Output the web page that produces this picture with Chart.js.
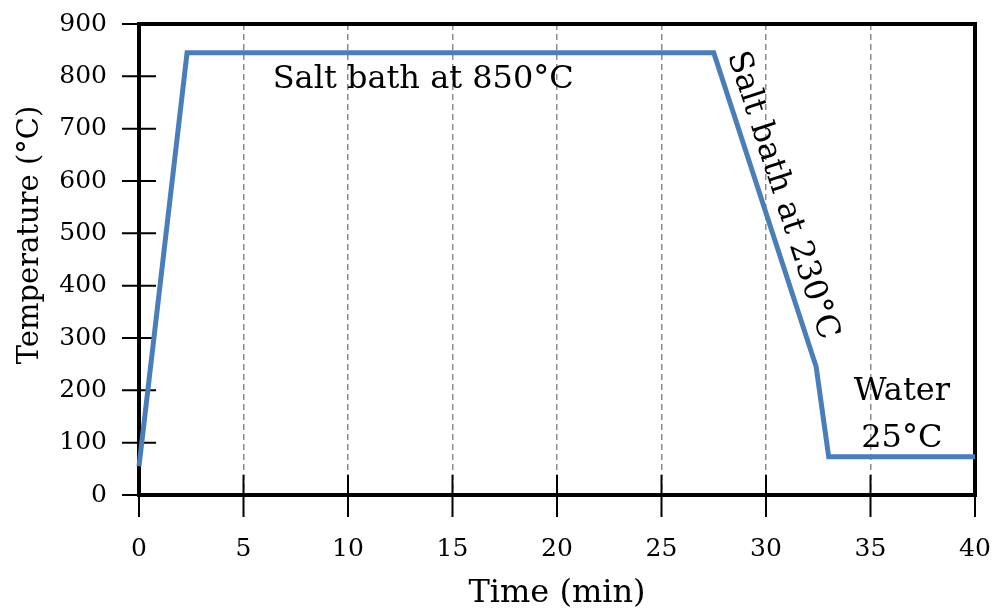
<!DOCTYPE html>
<html>
<head>
<meta charset="utf-8">
<script src="https://cdn.jsdelivr.net/npm/chart.js@4.4.1/dist/chart.umd.min.js"></script>
<style>
  html, body { margin: 0; padding: 0; background: #fff; }
</style>
</head>
<body>
<canvas id="chart" width="994" height="613"></canvas>
<script>
// data
const timeMin = [0, 2.3, 27.5, 32.4, 33.0, 40];
const tempC   = [55, 845, 845, 245, 73, 73];
const xTicks  = [0, 5, 10, 15, 20, 25, 30, 35, 40];
const yTicks  = [0, 100, 200, 300, 400, 500, 600, 700, 800, 900];

// labels inside the plot (placed in data units)
const noteText  = ['Salt bath at 850°C', 'Salt bath at 230°C', 'Water', '25°C'];
const noteX     = [13.6, 28.17, 36.5, 36.5];
const noteY     = [778, 841, 181, 92];
const noteAngle = [0, 72, 0, 0];
const noteAlign = ['center', 'left', 'center', 'center'];

const serif = "'DejaVu Serif', serif";

// box round the plot, ticks that cross the axes, and the text notes
const framePlugin = {
  id: 'frame',
  beforeDatasetsDraw(chart) {
    const {ctx, chartArea: a, scales: {x, y}} = chart;
    ctx.save();
    ctx.strokeStyle = '#000';
    ctx.lineWidth = 2;
    ctx.beginPath();
    y.ticks.forEach(t => {
      let py = y.getPixelForValue(t.value);
      ctx.moveTo(a.left - 17, py);
      ctx.lineTo(a.left + 17, py);
    });
    x.ticks.forEach(t => {
      let px = x.getPixelForValue(t.value);
      ctx.moveTo(px, a.bottom - 20);
      ctx.lineTo(px, a.bottom + 22);
    });
    ctx.stroke();
    ctx.lineWidth = 4;
    ctx.strokeRect(a.left, a.top, a.right - a.left, a.bottom - a.top);
    ctx.restore();
  },
  afterDatasetsDraw(chart) {
    const {ctx, scales: {x, y}} = chart;
    ctx.save();
    ctx.fillStyle = '#000';
    ctx.font = '32px ' + serif;
    ctx.textBaseline = 'alphabetic';
    for (let i = 0; i < noteText.length; i++) {
      ctx.save();
      ctx.translate(x.getPixelForValue(noteX[i]), y.getPixelForValue(noteY[i]));
      ctx.rotate(noteAngle[i] * Math.PI / 180);
      ctx.textAlign = noteAlign[i];
      ctx.fillText(noteText[i], 0, 0);
      ctx.restore();
    }
    // y axis title
    ctx.save();
    ctx.font = '29px ' + serif;
    ctx.translate(38, 235);
    ctx.rotate(-Math.PI / 2);
    ctx.textAlign = 'center';
    ctx.fillText('Temperature (°C)', 0, 0);
    ctx.restore();
    ctx.restore();
  }
};

new Chart('chart', {
  type: 'line',
  data: {
    datasets: [{
      data: timeMin.map((t, i) => ({x: t, y: tempC[i]})),
      borderColor: '#4a7ebb',
      borderWidth: 5,
      pointRadius: 0,
      tension: 0,
      clip: 6
    }]
  },
  options: {
    responsive: false,
    animation: false,
    devicePixelRatio: 1,
    layout: {
      padding: {top: 24, right: 19, left: 0, bottom: 0}
    },
    plugins: {
      legend: {display: false},
      tooltip: {enabled: false}
    },
    scales: {
      x: {
        type: 'linear',
        min: 0,
        max: 40,
        afterBuildTicks: (s) => { s.ticks = xTicks.map(v => ({value: v})); },
        afterFit: (s) => { s.height = 118; },
        grid: {
          color: '#8c8c8c',
          lineWidth: 1.5,
          drawTicks: true,
          tickLength: 37,
          tickColor: 'rgba(0,0,0,0)'
        },
        border: {display: false, dash: [6, 4]},
        ticks: {
          color: '#000',
          padding: 2,
          maxRotation: 0,
          font: {family: serif, size: 25}
        },
        title: {
          display: true,
          text: 'Time (min)',
          color: '#000',
          padding: {top: 0, bottom: 0},
          font: {family: serif, size: 32}
        }
      },
      y: {
        min: 0,
        max: 900,
        afterBuildTicks: (s) => { s.ticks = yTicks.map(v => ({value: v})); },
        afterFit: (s) => { s.width = 139; },
        grid: {
          display: true,
          drawOnChartArea: false,
          drawTicks: true,
          tickLength: 30,
          tickColor: 'rgba(0,0,0,0)',
          color: 'rgba(0,0,0,0)'
        },
        border: {display: false},
        ticks: {
          color: '#000',
          padding: 2,
          font: {family: serif, size: 25}
        }
      }
    }
  },
  plugins: [framePlugin]
});
</script>
</body>
</html>
